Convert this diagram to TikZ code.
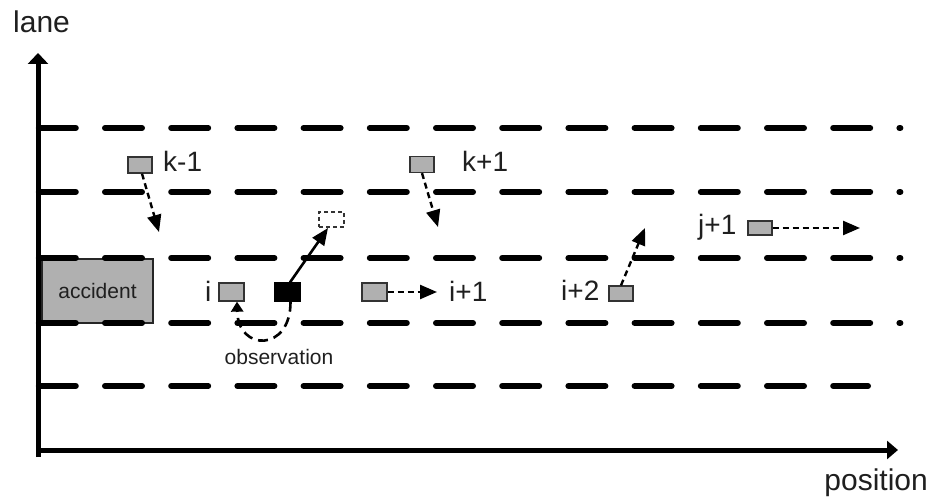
\documentclass[tikz,border=0pt]{standalone}
\usepackage{fontspec}
\setmainfont{Liberation Sans}
\usetikzlibrary{arrows.meta}
\definecolor{cargray}{gray}{0.69}
\definecolor{ink}{gray}{0.12}
\begin{document}
\begin{tikzpicture}[x=1pt,y=-1pt,
  lanes/.style={line width=6pt, line cap=round, dash pattern=on 37pt off 29.2pt},
  axisline/.style={line width=5pt},
  car/.style={draw=black!80, fill=cargray, line width=1.3pt, minimum width=24pt, minimum height=16pt, inner sep=0pt},
  lbl/.style={font=\fontsize{28}{30}\selectfont, text=ink, inner sep=0pt, anchor=base west},
  big/.style={font=\fontsize{30}{32}\selectfont, text=ink, inner sep=0pt},
  small/.style={font=\fontsize{21}{24}\selectfont, text=ink, inner sep=0pt},
  head/.tip={Triangle[length=17pt,width=14pt]},
  move/.style={line width=2.4pt, dash pattern=on 6pt off 4pt, -head},
]
\useasboundingbox (0,0) rectangle (930,497);

% accident area
\node[draw=black!85, fill=cargray, line width=1.2pt, minimum width=111pt, minimum height=64pt, inner sep=0pt, small] (acc) at (97.5,291) {accident};

% lane markings
\foreach \yy in {128,192,258,323} {
  \draw[lanes] (38.8,\yy) -- (900.4,\yy);
}
\draw[lanes] (38.8,386) -- (868,386);

% axes
\coordinate (ybot) at (38,457);
\coordinate (ytip) at (38,53);
\coordinate (xorg) at (36,450);
\coordinate (xtip) at (898,450);
\draw[axisline, -{Triangle[length=11pt,width=20pt]}] (ybot) -- (ytip);
\draw[axisline, -{Triangle[length=11pt,width=18pt]}] (xorg) -- (xtip);
\node[big, anchor=base west] (lane) at (13,33) {lane};
\node[big, anchor=base east] (pos) at (928,490) {position};

% vehicles
\node[car] (km1) at (140,165) {};
\node[car] (kp1) at (422,164.5) {};
\node[car, minimum width=25pt, minimum height=18pt] (vi) at (231.5,292) {};
\node[car, fill=black, draw=black, minimum width=25pt, minimum height=18pt] (obs) at (287.5,292) {};
\node[car, fill=white, dashed, dash pattern=on 4pt off 3pt, minimum width=25pt, minimum height=15pt] (ghost) at (331.5,219.5) {};
\node[car, minimum width=25pt, minimum height=18pt] (ip1) at (374.5,292) {};
\node[car, minimum width=24pt, minimum height=15pt] (ip2) at (621,293.5) {};
\node[car, minimum width=24pt, minimum height=14pt] (jp1) at (760,228) {};

% labels
\node[lbl] (tkm1) at (163,172) {k-1};
\node[lbl] (tkp1) at (462,172) {k+1};
\node[lbl] (ti) at (205,302) {i};
\node[lbl] (tip1) at (449,302) {i+1};
\node[lbl] (tip2) at (561,301) {i+2};
\node[lbl] (tjp1) at (698,235) {j+1};
\node[small, anchor=base] (tobs) at (279,364) {observation};

% movement arrows
\coordinate (km1tip) at (159,232);
\coordinate (kp1tip) at (438,227);
\coordinate (ip1tip) at (437,292);
\coordinate (ip2tip) at (645,228);
\coordinate (jp1tip) at (860,228);
\draw[move] ([xshift=2pt]km1.south) -- (km1tip);
\draw[move] (kp1.south) -- (kp1tip);
\draw[move] (ip1.east) -- (ip1tip);
\draw[move] (ip2.north) -- (ip2tip);
\draw[move] (jp1.east) -- (jp1tip);

% lane change of the observed vehicle
\coordinate (ghosttip) at (328,228);
\draw[line width=2.6pt, -head] ([xshift=2.5pt]obs.north) -- (ghosttip);

% observation
\draw[line width=2.6pt, dash pattern=on 10pt off 6pt, -{Triangle[length=10pt,width=12pt]}]
  ([xshift=3pt]obs.south) .. controls (291,352) and (238,352) .. ([xshift=5.5pt]vi.south);
\end{tikzpicture}
\end{document}
